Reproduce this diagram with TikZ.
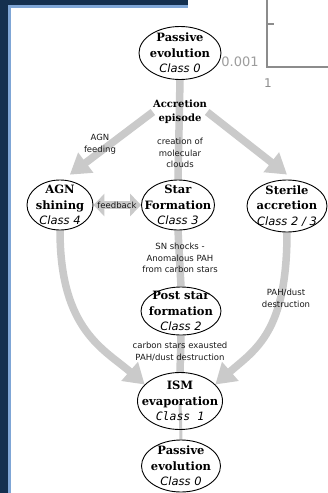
\documentclass[tikz,border=0pt]{standalone}
\usepackage{fontspec}
\setmainfont{DejaVu Serif}
\newfontfamily\lblfont{DejaVu Sans}[ItalicFont={DejaVu Sans Oblique}]
\newfontfamily\clsmono{DejaVu Sans Mono}[ItalicFont={DejaVu Sans Mono Oblique}]
\usetikzlibrary{shapes.geometric,arrows.meta,backgrounds}

\definecolor{navy}{HTML}{14304F}
\definecolor{rim}{HTML}{7FA6D6}
\definecolor{flowgray}{HTML}{CACACA}
\definecolor{axisgray}{HTML}{8C8C8C}

\newcommand{\stg}[3]{\textbf{#1}\\\textbf{#2}\\{\lblfont\itshape #3}}

\begin{document}
\begin{tikzpicture}[x=1pt,y=-1pt,
  stage/.style 2 args={ellipse,draw,line width=0.9pt,minimum width=#1,minimum height=#2,inner sep=0pt},
  stagetxt/.style={align=center,font=\fontsize{11.5}{15.5}\selectfont,inner sep=0pt},
  note/.style={align=center,font=\lblfont\fontsize{8.5}{11.8}\selectfont,text=black!90,inner sep=0pt},
  flow/.style={draw=flowgray,line width=7.5pt},
  bigtip/.style={-{Triangle[width=24pt,length=20pt]}}]
\useasboundingbox (0,0) rectangle (328,493);

% stages
\node[stage={82pt}{53pt},label={[stagetxt]center:\stg{Passive}{evolution}{Class 0}}] (top) at (180,53) {};
\node[stage={66pt}{50pt},label={[stagetxt]center:\stg{AGN}{shining}{Class 4}}] (agn) at (60,205) {};
\node[stage={73pt}{50pt},label={[stagetxt]center:\stg{Star}{Formation}{Class 3}}] (star) at (178,205) {};
\node[stage={80pt}{52pt},label={[stagetxt]center:\stg{Sterile}{accretion}{Class 2 / 3}}] (sterile) at (287,206) {};
\node[stage={80pt}{48pt},label={[stagetxt]center:\stg{Post star}{formation}{Class 2}}] (post) at (181,311) {};
\node[stage={85pt}{57pt},label={[stagetxt]center:\textbf{ISM}\\\textbf{evaporation}\\{\clsmono\itshape Class 1}}] (ism) at (180,401) {};
\node[stage={79pt}{52pt},label={[stagetxt]center:\stg{Passive}{evolution}{Class 0}}] (bottom) at (181,466) {};

% notes
\node[align=center,inner sep=0pt,font=\bfseries\fontsize{10}{14}\selectfont] (acc) at (180,112) {Accretion\\episode};
\node[note] (feeding) at (100,144) {AGN\\feeding};
\node[note] (clouds) at (180,153) {creation of\\molecular\\clouds};
\node[note] (fback) at (117,205) {feedback};
\node[note] (shocks) at (180,258) {SN shocks -\\Anomalous PAH\\from carbon stars};
\node[note] (pahdust) at (286,298) {PAH/dust\\destruction};
\node[note] (exhaust) at (180,352) {carbon stars exausted\\PAH/dust destruction};

\begin{scope}[on background layer]
\fill[white] (0,0) rectangle (328,493);
\fill[navy] (0,0) rectangle (8,493);
\fill[navy] (0,0) rectangle (188,5);
\fill[rim] (8,5) rectangle (11,493);
\fill[rim] (8,5) rectangle (188,8);

% piece of a plot behind
\draw[axisgray,line width=1.5pt] (267,0) -- (267,67) -- (328,67);
\draw[axisgray,line width=1.2pt] (267,24) -- (274,24);
\node[text=axisgray!85,font=\lblfont\fontsize{13}{13}\selectfont,inner sep=0pt] (tick001) at (240,62) {0.001};
\node[text=axisgray,font=\lblfont\fontsize{12}{12}\selectfont,inner sep=0pt] (tickone) at (268,83) {1};

\draw[flow] (top.south) -- (star.north);
\draw[flow] (star.south) -- (post.north);
\draw[flow] (post.south) -- (ism.north);
\draw[flow,line width=3pt] (ism.center) -- (bottom.north);
\draw[flow,bigtip] (acc.west) -- ([yshift=6pt]agn.68);
\draw[flow,bigtip] (acc.east) -- ([yshift=5pt]sterile.north);
\draw[flow,bigtip] (agn.south) .. controls +(0,100) and +(-40,-35) .. (ism.155);
\draw[flow,bigtip] (sterile.south) .. controls +(0,100) and +(40,-35) .. (ism.25);
\draw[flow,{Triangle[width=22pt,length=11pt]}-{Triangle[width=22pt,length=11pt]}] (agn.east) -- (star.west);
\end{scope}
\end{tikzpicture}
\end{document}
